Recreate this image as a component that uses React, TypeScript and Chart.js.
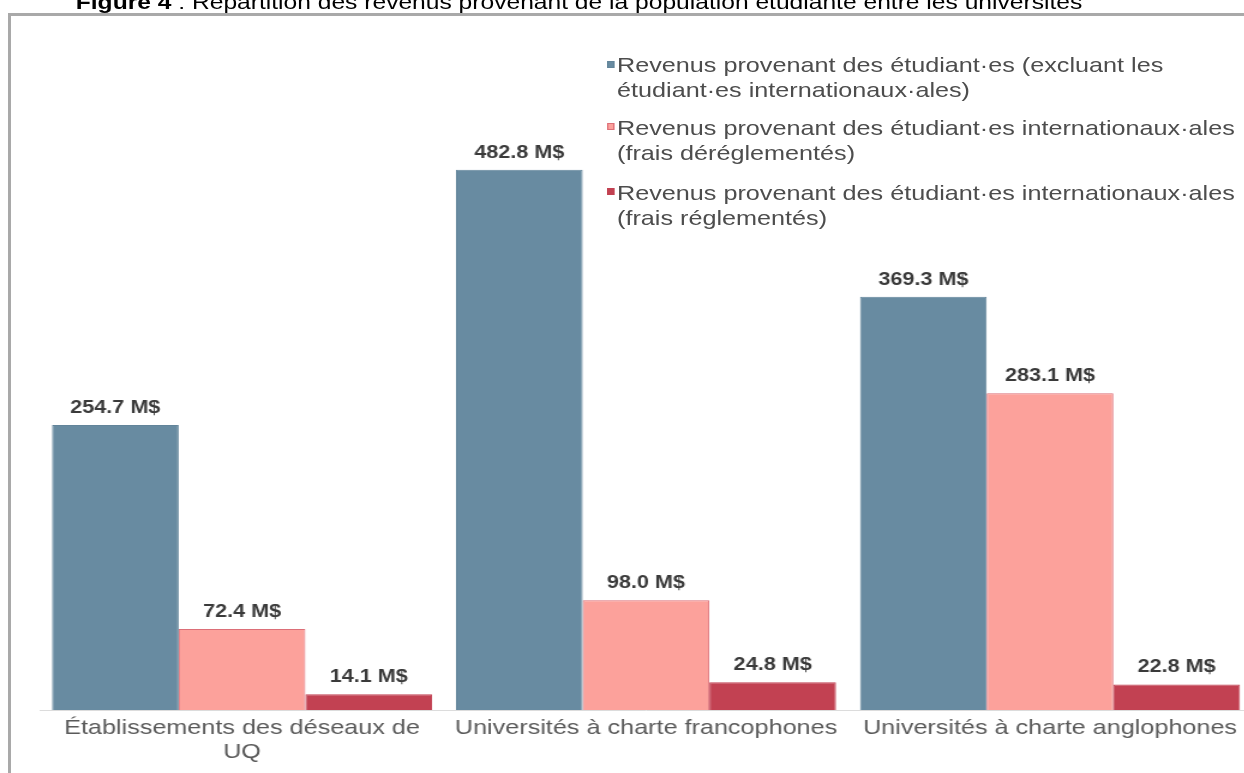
import React, { useEffect, useRef } from "react";
import { Chart, registerables } from "chart.js";

Chart.register(...registerables);

// ---- data ----
const categories: (string | string[])[] = [
  ["Établissements des déseaux de", "UQ"],
  "Universités à charte francophones",
  "Universités à charte anglophones",
];
const seriesNames = [
  "Revenus provenant des étudiant·es (excluant les étudiant·es internationaux·ales)",
  "Revenus provenant des étudiant·es internationaux·ales (frais déréglementés)",
  "Revenus provenant des étudiant·es internationaux·ales (frais réglementés)",
];
const legendLines = [
  ["Revenus provenant des étudiant·es (excluant les", "étudiant·es internationaux·ales)"],
  ["Revenus provenant des étudiant·es internationaux·ales", "(frais déréglementés)"],
  ["Revenus provenant des étudiant·es internationaux·ales", "(frais réglementés)"],
];
const domesticRevenue = [254.7, 482.8, 369.3];
const intlDeregulated = [72.4, 98.0, 283.1];
const intlRegulated = [14.1, 24.8, 22.8];
const valueSuffix = " M$";
const titleBold = "Figure 4";
const titleRest = " : Répartition des revenus provenant de la population étudiante entre les universités";

const fillColors = ["#688ba1", "#fca19b", "#c24152"];
const borderColors = ["#62849a", "#dc6f78", "#c24152"];

const S = 1.2; // horizontal stretch of the reference picture
const FONT = '"Liberation Sans", Arial, Helvetica, sans-serif';

const valueLabels = {
  id: "valueLabels",
  afterDatasetsDraw(chart: any) {
    const ctx = chart.ctx;
    ctx.save();
    ctx.font = `bold 18px ${FONT}`;
    ctx.fillStyle = "#3a3a3a";
    ctx.textAlign = "center";
    ctx.textBaseline = "alphabetic";
    chart.data.datasets.forEach((ds: any, i: number) => {
      const meta = chart.getDatasetMeta(i);
      meta.data.forEach((el: any, j: number) => {
        const v = ds.data[j] as number;
        ctx.fillText(v.toFixed(1) + valueSuffix, el.x, el.y - 12);
      });
    });
    ctx.restore();
  },
};

export default function App() {
  const ref = useRef<HTMLCanvasElement | null>(null);

  useEffect(() => {
    if (!ref.current) return;
    const series = [domesticRevenue, intlDeregulated, intlRegulated];
    const chart = new Chart(ref.current, {
      type: "bar",
      data: {
        labels: categories,
        datasets: series.map((d, i) => ({
          label: seriesNames[i],
          data: d,
          backgroundColor: fillColors[i],
          borderColor: borderColors[i],
          borderWidth: 1,
          categoryPercentage: 0.9406,
          barPercentage: 1,
        })),
      },
      options: {
        responsive: false,
        animation: false,
        devicePixelRatio: 1,
        layout: { padding: { left: 40 / S, right: 8 / S, top: 83.4, bottom: 3 } },
        plugins: {
          legend: { display: false },
          tooltip: { enabled: false },
          title: { display: false },
        },
        scales: {
          x: {
            grid: { display: false, drawTicks: false, tickLength: 0 },
            border: { display: true, color: "#dcdcdc", width: 1 },
            ticks: {
              color: "#5a5a5a",
              padding: 6,
              maxRotation: 0,
              autoSkip: false,
              font: { family: FONT, size: 21, lineHeight: "24px" },
            },
          },
          y: {
            display: false,
            min: 0,
            max: 560,
          },
        },
      },
      plugins: [valueLabels],
    });
    return () => chart.destroy();
  }, []);

  const legendTops = [52, 114.5, 179.5];

  return (
    <div
      style={{
        position: "fixed",
        left: 0,
        top: 0,
        width: 1244,
        height: 773,
        overflow: "hidden",
        background: "#fff",
      }}
    >
      <div
        style={{
          position: "absolute",
          left: 8,
          top: 13,
          width: 1400,
          height: 900,
          borderLeft: "3px solid #a9a9a9",
          borderTop: "3px solid #a9a9a9",
          boxSizing: "border-box",
        }}
      />
      <div
        style={{
          position: "absolute",
          left: 0,
          top: 0,
          width: 1244 / S,
          height: 773,
          transform: `scaleX(${S})`,
          transformOrigin: "0 0",
          fontFamily: FONT,
        }}
      >
        <div
          style={{
            position: "absolute",
            left: 579 / S,
            transform: "translateX(-50%)",
            top: -9,
            fontSize: 20.5,
            lineHeight: "21px",
            color: "#000",
            whiteSpace: "nowrap",
          }}
        >
          <b>{titleBold}</b>
          {titleRest}
        </div>
        <canvas
          ref={ref}
          width={1050}
          height={773}
          style={{ position: "absolute", left: 0, top: 0, width: 1050, height: 773, display: "block" }}
        />
        {legendLines.map((lines, i) => (
          <div key={i}>
            <div
              style={{
                position: "absolute",
                left: 607 / S,
                top: legendTops[i] + 8.5,
                width: 7 / S,
                height: 7,
                background: fillColors[i],
                border: `1px solid ${borderColors[i]}`,
                boxSizing: "border-box",
              }}
            />
            <div
              style={{
                position: "absolute",
                left: 617 / S,
                top: legendTops[i],
                fontSize: 21,
                lineHeight: "25px",
                color: "#4d4d4d",
                whiteSpace: "nowrap",
              }}
            >
              {lines.map((l, k) => (
                <div key={k}>{l}</div>
              ))}
            </div>
          </div>
        ))}
      </div>
    </div>
  );
}
